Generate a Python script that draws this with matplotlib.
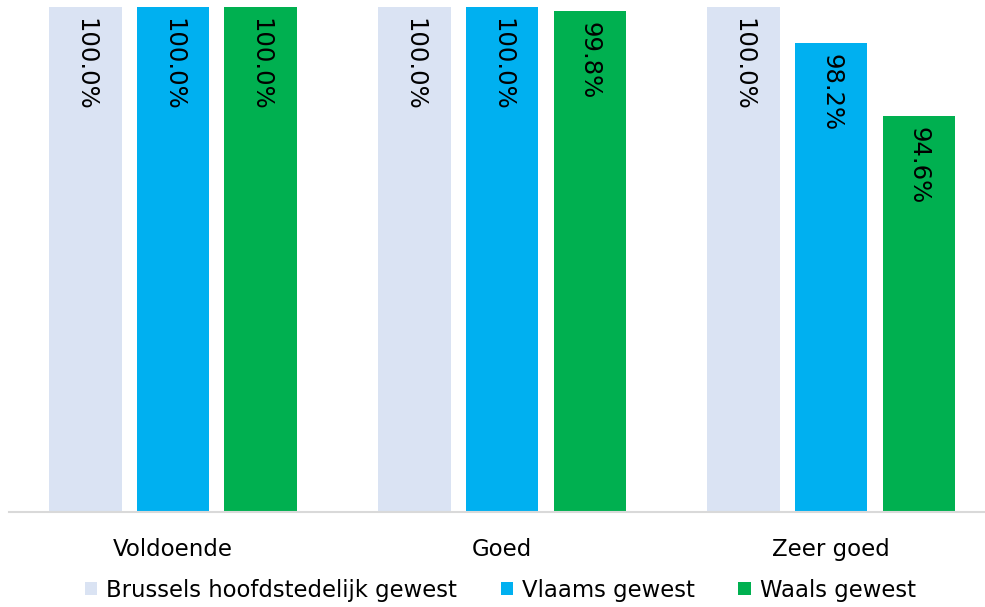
import matplotlib.pyplot as plt
import numpy as np

categories = ["Voldoende", "Goed", "Zeer goed"]
series = ["Brussels hoofdstedelijk gewest", "Vlaams gewest", "Waals gewest"]
brussel = [1.000, 1.000, 1.000]
vlaams = [1.000, 1.000, 0.982]
waals = [1.000, 0.998, 0.946]
colors = ["#DAE3F3", "#00B0F0", "#00B050"]

plt.rcParams["font.family"] = ["DejaVu Sans"]

fig = plt.figure(figsize=(9.85, 6.07), dpi=100)
ax = fig.add_axes([8.5 / 985, 95 / 607, 976.5 / 985, 505 / 607])

x = np.arange(len(categories))
width = 0.219
offset = 0.266
for i, (vals, name, col) in enumerate(zip([brussel, vlaams, waals], series, colors)):
    pos = x + (i - 1) * offset
    ax.bar(pos, vals, width, color=col, label=name, zorder=2)
    for p, v in zip(pos, vals):
        ax.annotate(f"{v * 100:.1f}%", (p, v), xytext=(0, -8),
                    textcoords="offset points", ha="center", va="top",
                    rotation=270, fontsize=17.5, color="black", zorder=3)

ax.set_xlim(-0.5, 2.468)
ax.set_ylim(0.75, 1.0)
ax.set_yticks([])
ax.set_xticks(x)
ax.set_xticklabels(categories, fontsize=16.5)
ax.tick_params(axis="x", length=0, pad=19)
for s in ["top", "right", "left"]:
    ax.spines[s].set_visible(False)
ax.spines["bottom"].set_color("#D9D9D9")
ax.spines["bottom"].set_linewidth(1.5)

fig.legend(loc="center", bbox_to_anchor=(0.508, 0.028), ncol=3, frameon=False,
           fontsize=16.4, handlelength=0.55, handleheight=0.55, handletextpad=0.4,
           columnspacing=1.9, borderaxespad=0)

fig.savefig("out.png", dpi=100)
